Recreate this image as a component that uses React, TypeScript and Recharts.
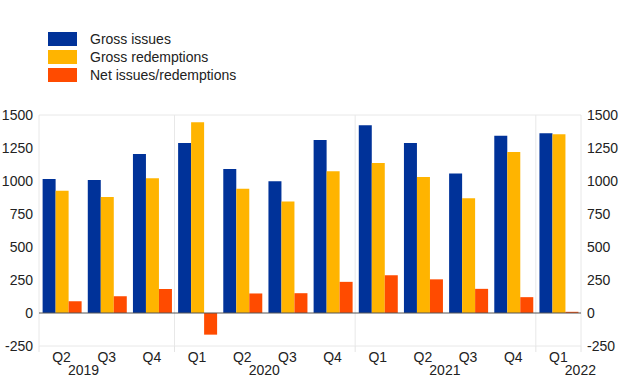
import React from "react";
import {
  Bar,
  ComposedChart,
  CartesianGrid,
  Line,
  ReferenceLine,
  XAxis,
  YAxis,
} from "recharts";

const quarters = ["Q2", "Q3", "Q4", "Q1", "Q2", "Q3", "Q4", "Q1", "Q2", "Q3", "Q4", "Q1"];
const years = ["2019", "2019", "2019", "2020", "2020", "2020", "2020", "2021", "2021", "2021", "2021", "2022"];
const grossIssues = [1015, 1008, 1205, 1287, 1090, 998, 1310, 1422, 1287, 1056, 1343, 1362];
const grossRedemptions = [926, 878, 1020, 1445, 942, 845, 1074, 1136, 1030, 870, 1220, 1354];
const netIssues = [89, 127, 182, -164, 148, 150, 236, 286, 255, 183, 120, 9];
const yTicks = [-250, 0, 250, 500, 750, 1000, 1250, 1500];

const BLUE = "#003299";
const YELLOW = "#ffb400";
const RED = "#ff4b00";
const FONT = "'Liberation Sans', Arial, sans-serif";

const W = 620;
const H = 387;
const AXIS_W = 39;
const BAND = (W - 2 * AXIS_W) / quarters.length;

const data = quarters.map((q, i) => ({
  key: `${q} ${years[i]}`,
  quarter: q,
  year: years[i],
  gross: grossIssues[i],
  redemptions: grossRedemptions[i],
  net: netIssues[i],
}));

// index of the tick that carries each year label, and where year boundaries fall
const yearLabelAt: Record<number, string> = { 0: "2019", 4: "2020", 8: "2021", 11: "2022" };
const boundaries = [0, 3, 7, 11, 12];

const legendItems = [
  { name: "Gross issues", color: BLUE },
  { name: "Gross redemptions", color: YELLOW },
  { name: "Net issues/redemptions", color: RED },
];

function QuarterTick(props: any) {
  const { x, y, payload } = props;
  const i = payload.index;
  const q = quarters[i];
  const yr = yearLabelAt[i];
  const left = x - BAND / 2;
  return (
    <g>
      {boundaries.includes(i) && (
        <line x1={left} x2={left} y1={y - 8} y2={y - 2} stroke="#e4e4e4" />
      )}
      {i === quarters.length - 1 && (
        <line x1={left + BAND} x2={left + BAND} y1={y - 8} y2={y - 2} stroke="#e4e4e4" />
      )}
      <text x={x} y={y} dy={8} textAnchor="middle" fontSize={14} fill="#222" fontFamily={FONT}>
        {q}
      </text>
      {yr && (
        <text x={x + 22} y={y} dy={21} textAnchor="middle" fontSize={14} fill="#222" fontFamily={FONT}>
          {yr}
        </text>
      )}
    </g>
  );
}

export default function App() {
  return (
    <div style={{ position: "absolute", left: 0, top: 0, width: W, height: H, background: "#fff" }}>
      <div style={{ position: "absolute", left: 48, top: 30, fontFamily: FONT, fontSize: 14, color: "#222" }}>
        {legendItems.map((it) => (
          <div key={it.name} style={{ display: "flex", alignItems: "center", height: 18 }}>
            <span style={{ width: 29, height: 14, background: it.color, marginRight: 13 }} />
            <span>{it.name}</span>
          </div>
        ))}
      </div>
      <ComposedChart
        width={W}
        height={H}
        data={data}
        margin={{ top: 115, right: 0, bottom: 0, left: 0 }}
        barCategoryGap="8%"
        barGap={0}
      >
        <CartesianGrid
          stroke="#e8e8e8"
          verticalCoordinatesGenerator={({ offset }: any) =>
            boundaries.map((b) => offset.left + (offset.width / quarters.length) * b)
          }
        />
        <XAxis
          dataKey="key"
          height={41}
          interval={0}
          tickLine={false}
          axisLine={false}
          tick={<QuarterTick />}
        />
        <YAxis
          yAxisId="left"
          width={AXIS_W}
          domain={[-250, 1500]}
          ticks={yTicks}
          tickLine={false}
          axisLine={false}
          tickMargin={0}
          tick={{ fontSize: 14, fill: "#222", fontFamily: FONT }}
        />
        <YAxis
          yAxisId="right"
          orientation="right"
          width={AXIS_W}
          type="number"
          domain={[-250, 1500]}
          ticks={yTicks}
          tickLine={false}
          axisLine={false}
          tickMargin={0}
          tick={{ fontSize: 14, fill: "#222", fontFamily: FONT }}
        />
        <Bar yAxisId="left" dataKey="gross" name="Gross issues" fill={BLUE} isAnimationActive={false} />
        <Bar yAxisId="left" dataKey="redemptions" name="Gross redemptions" fill={YELLOW} isAnimationActive={false} />
        <Bar yAxisId="left" dataKey="net" name="Net issues/redemptions" fill={RED} isAnimationActive={false} />
        {/* invisible series so the right-hand axis gets drawn */}
        <Line
          yAxisId="right"
          dataKey="gross"
          stroke="none"
          dot={false}
          activeDot={false}
          legendType="none"
          isAnimationActive={false}
        />
        <ReferenceLine yAxisId="left" y={0} stroke="#555" />
      </ComposedChart>
    </div>
  );
}
